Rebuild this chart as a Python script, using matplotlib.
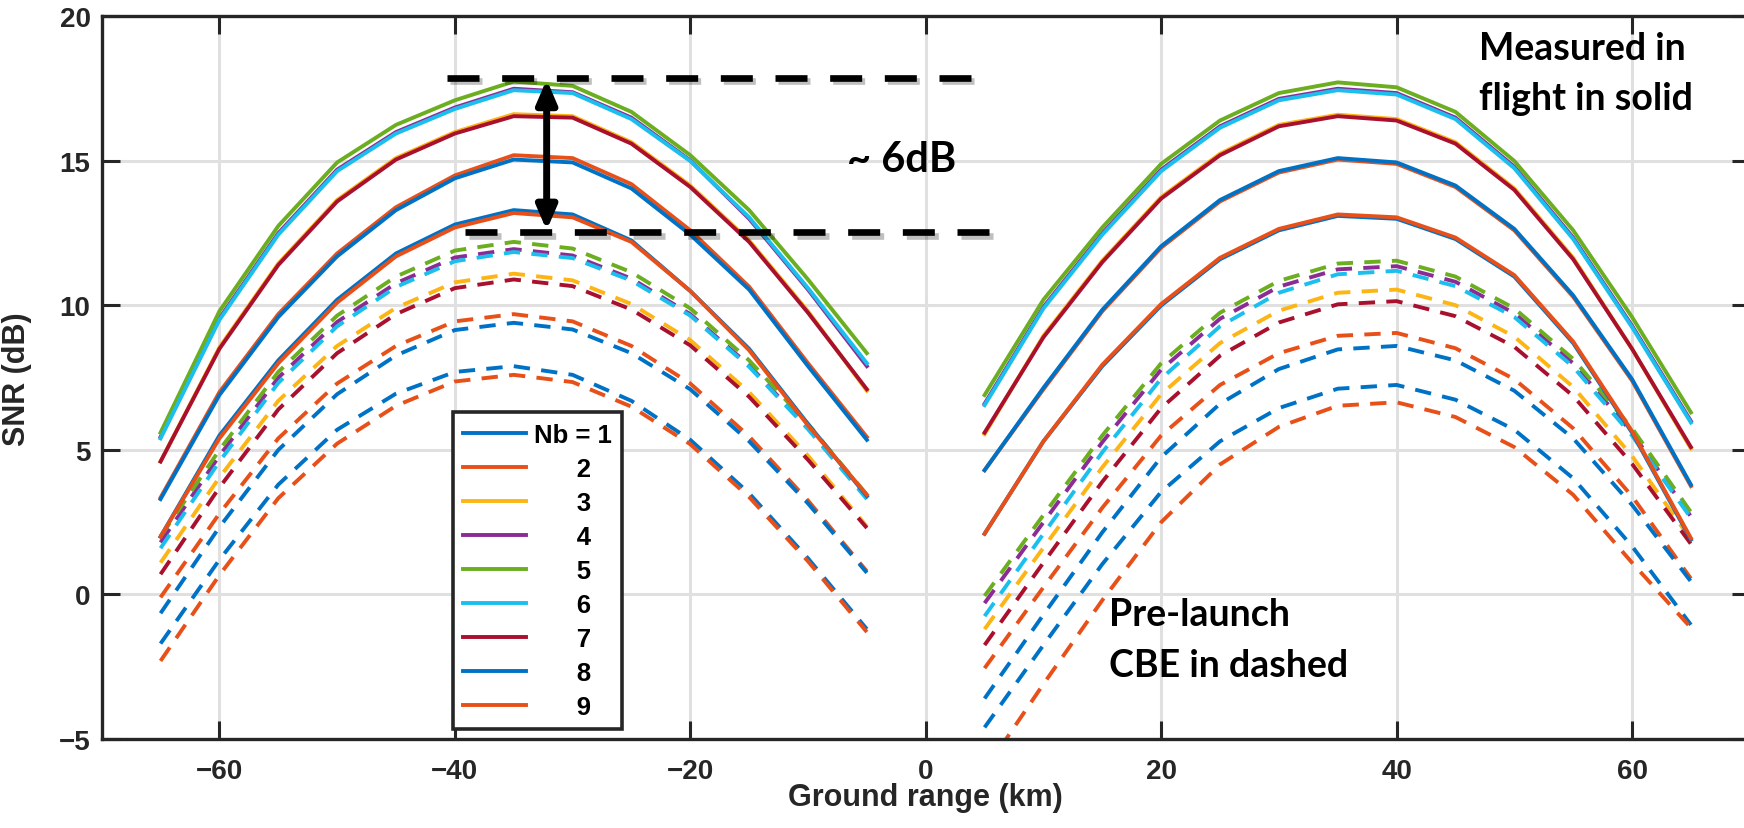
import matplotlib
matplotlib.use("Agg")
import matplotlib.pyplot as plt
import matplotlib.patheffects as pe

# ground range samples (km) for the two swaths
x_left = [-65, -60, -55, -50, -45, -40, -35, -30, -25, -20, -15, -10, -5]
x_right = [5, 10, 15, 20, 25, 30, 35, 40, 45, 50, 55, 60, 65]

beams = [1, 2, 3, 4, 5, 6, 7, 8, 9]
colors = ['#0072C6', '#E8501A', '#FDB515', '#8B2C95', '#6BAE1F',
          '#1BBFEE', '#A8102E', '#0072C6', '#E8501A']

# measured in flight SNR (dB), one row per beam
meas_left = [
    [2.0, 5.5, 8.1, 10.2, 11.8, 12.8, 13.3, 13.15, 12.25, 10.5, 8.5, 5.9, 3.4],
    [3.35, 7.0, 9.7, 11.8, 13.4, 14.5, 15.2, 15.1, 14.2, 12.6, 10.65, 8.0, 5.45],
    [4.6, 8.55, 11.45, 13.65, 15.1, 16.0, 16.62, 16.55, 15.65, 14.15, 12.25, 9.8, 7.05],
    [5.45, 9.55, 12.5, 14.7, 16.0, 16.85, 17.5, 17.38, 16.5, 15.02, 13.0, 10.55, 7.9],
    [5.6, 9.8, 12.75, 14.95, 16.25, 17.1, 17.75, 17.6, 16.7, 15.2, 13.3, 10.9, 8.35],
    [5.4, 9.5, 12.45, 14.65, 15.95, 16.8, 17.45, 17.35, 16.45, 15.0, 13.05, 10.6, 8.0],
    [4.6, 8.5, 11.4, 13.6, 15.05, 15.95, 16.55, 16.5, 15.6, 14.1, 12.2, 9.75, 7.1],
    [3.3, 6.9, 9.6, 11.7, 13.3, 14.4, 15.05, 14.95, 14.05, 12.45, 10.55, 7.9, 5.35],
    [2.0, 5.4, 8.0, 10.1, 11.7, 12.7, 13.2, 13.05, 12.2, 10.5, 8.45, 5.85, 3.45],
]
meas_right = [
    [2.1, 5.3, 7.9, 10.0, 11.6, 12.6, 13.1, 13.0, 12.3, 11.0, 8.7, 5.6, 1.9],
    [4.3, 7.1, 9.8, 12.0, 13.6, 14.6, 15.05, 14.9, 14.1, 12.6, 10.3, 7.4, 3.75],
    [5.55, 8.95, 11.55, 13.75, 15.25, 16.25, 16.6, 16.45, 15.65, 14.05, 11.65, 8.5, 5.05],
    [6.6, 9.95, 12.5, 14.7, 16.2, 17.15, 17.5, 17.35, 16.5, 14.8, 12.35, 9.3, 6.0],
    [6.9, 10.2, 12.7, 14.9, 16.4, 17.35, 17.72, 17.55, 16.7, 15.0, 12.6, 9.6, 6.3],
    [6.55, 9.9, 12.45, 14.65, 16.15, 17.1, 17.45, 17.3, 16.45, 14.75, 12.3, 9.25, 5.95],
    [5.6, 8.9, 11.5, 13.7, 15.2, 16.2, 16.55, 16.4, 15.6, 14.0, 11.6, 8.5, 5.1],
    [4.3, 7.15, 9.85, 12.05, 13.65, 14.65, 15.1, 14.95, 14.15, 12.65, 10.35, 7.45, 3.8],
    [2.1, 5.3, 7.95, 10.05, 11.65, 12.65, 13.15, 13.05, 12.35, 11.05, 8.75, 5.65, 1.95],
]

# pre-launch current best estimate SNR (dB)
cbe_left = [
    [-1.7, 1.2, 3.8, 5.7, 6.95, 7.7, 7.9, 7.6, 6.7, 5.35, 3.5, 1.25, -1.2],
    [-0.1, 2.8, 5.4, 7.3, 8.6, 9.45, 9.7, 9.45, 8.6, 7.3, 5.47, 3.25, 0.8],
    [1.1, 4.05, 6.7, 8.6, 9.92, 10.8, 11.1, 10.87, 10.05, 8.8, 7.0, 4.8, 2.35],
    [1.8, 4.8, 7.5, 9.43, 10.77, 11.66, 11.95, 11.73, 10.93, 9.7, 7.93, 5.76, 3.35],
    [2.0, 5.0, 7.7, 9.65, 11.0, 11.9, 12.2, 11.97, 11.15, 9.9, 8.1, 5.9, 3.45],
    [1.6, 4.6, 7.32, 9.28, 10.64, 11.53, 11.85, 11.64, 10.86, 9.65, 7.88, 5.72, 3.3],
    [0.7, 3.7, 6.4, 8.35, 9.7, 10.6, 10.9, 10.67, 9.86, 8.62, 6.84, 4.66, 2.3],
    [-0.65, 2.33, 5.0, 6.93, 8.27, 9.15, 9.4, 9.17, 8.35, 7.1, 5.3, 3.15, 0.75],
    [-2.3, 0.67, 3.33, 5.22, 6.53, 7.37, 7.6, 7.35, 6.5, 5.2, 3.37, 1.15, -1.3],
]
cbe_right = [
    [-4.6, -1.75, 1.05, 3.55, 5.3, 6.45, 7.12, 7.25, 6.74, 5.7, 4.02, 1.67, -1.05],
    [-2.55, 0.25, 3.0, 5.5, 7.25, 8.35, 8.95, 9.05, 8.52, 7.45, 5.75, 3.4, 0.55],
    [-1.2, 1.62, 4.4, 6.93, 8.7, 9.82, 10.44, 10.55, 10.01, 8.92, 7.18, 4.79, 1.9],
    [-0.3, 2.5, 5.27, 7.78, 9.54, 10.65, 11.25, 11.36, 10.82, 9.73, 8.0, 5.6, 2.7],
    [-0.05, 2.75, 5.5, 8.0, 9.75, 10.85, 11.45, 11.55, 11.0, 9.9, 8.15, 5.75, 2.85],
    [-0.75, 2.1, 4.92, 7.47, 9.28, 10.44, 11.08, 11.2, 10.67, 9.6, 7.88, 5.5, 2.65],
    [-1.75, 1.1, 3.9, 6.45, 8.26, 9.41, 10.04, 10.15, 9.63, 8.57, 6.87, 4.52, 1.75],
    [-3.6, -0.7, 2.15, 4.75, 6.6, 7.8, 8.48, 8.6, 8.1, 7.05, 5.4, 3.1, 0.45],
    [-6.1, -3.1, -0.2, 2.5, 4.5, 5.8, 6.53, 6.65, 6.14, 5.1, 3.45, 1.1, -1.15],
]

legend_labels = ['Nb = 1'] + ['      %d' % b for b in beams[1:]]

tick_font = {'family': 'Liberation Sans', 'weight': 'bold'}
note_font = {'family': 'Lato', 'weight': 'bold'}
axis_color = '#262626'

fig = plt.figure(figsize=(17.44, 8.29), dpi=100)
ax = fig.add_axes([0.0583, 0.1074, 0.945, 0.8715])

lw = 2.8
dash = (0, (4.2, 2.9))
handles = []
for i, b in enumerate(beams):
    h, = ax.plot(x_left, meas_left[i], color=colors[i], lw=lw, zorder=3)
    ax.plot(x_right, meas_right[i], color=colors[i], lw=lw, zorder=3)
    ax.plot(x_left, cbe_left[i], color=colors[i], lw=lw, ls=dash, zorder=2)
    ax.plot(x_right, cbe_right[i], color=colors[i], lw=lw, ls=dash, zorder=2)
    handles.append(h)

ax.set_xlim(-70, 70)
ax.set_ylim(-5, 20)
ax.set_xticks([-60, -40, -20, 0, 20, 40, 60])
ax.set_yticks([-5, 0, 5, 10, 15, 20])
ax.grid(True, color='#e0e0e0', lw=2.2, zorder=0)
ax.set_axisbelow(True)
ax.tick_params(direction='in', length=13, width=2.2, color=axis_color,
               top=True, right=True, labelsize=20, labelcolor=axis_color)
ax.tick_params(axis='x', pad=14)
ax.tick_params(axis='y', pad=8)
for lab in ax.get_xticklabels() + ax.get_yticklabels():
    lab.set_fontfamily('Liberation Sans')
    lab.set_fontweight('bold')
for s in ax.spines.values():
    s.set_linewidth(2.4)
    s.set_color(axis_color)

ax.set_xlabel('Ground range (km)', fontsize=22, color=axis_color, **tick_font)
ax.set_ylabel('SNR (dB)', fontsize=22, color=axis_color, **tick_font)
ax.xaxis.set_label_coords(0.5, -0.059)
ax.yaxis.set_label_coords(-0.0423, 0.5)

leg = ax.legend(handles, legend_labels, loc='lower left',
                bbox_to_anchor=(0.213, 0.0138), borderaxespad=0,
                prop={'family': 'Liberation Sans', 'weight': 'bold', 'size': 18.5},
                handlelength=2.45, handletextpad=0.3, labelspacing=0.39,
                borderpad=0.4, fancybox=False, framealpha=1)
leg.get_frame().set_edgecolor(axis_color)
leg.get_frame().set_linewidth(2.6)
leg.set_zorder(10)

# 6 dB gap markers with a soft drop shadow
shadow = [pe.SimpleLineShadow(offset=(2.5, -2.5), shadow_color='k', alpha=0.25),
          pe.Normal()]
ax.plot([-40.7, 5.6], [17.88, 17.88], color='k', lw=4.8,
        ls=(0, (4.8, 3.4)), path_effects=shadow, zorder=5)
ax.plot([-39.1, 5.6], [12.53, 12.53], color='k', lw=4.8,
        ls=(0, (4.8, 3.4)), path_effects=shadow, zorder=5)
ax.annotate('', xy=(-32.2, 12.6), xytext=(-32.2, 17.82),
            arrowprops=dict(arrowstyle='<|-|>,head_length=0.7,head_width=0.3',
                            mutation_scale=20, lw=5, color='k',
                            shrinkA=0, shrinkB=0), zorder=6)

ax.text(-6.7, 15.07, '~ 6dB', fontsize=30, ha='left', va='center', **note_font)
ax.text(47.0, 19.5, 'Measured in\nflight in solid', fontsize=27, ha='left',
        va='top', linespacing=1.58, **note_font)
ax.text(15.6, -0.1, 'Pre-launch\nCBE in dashed', fontsize=27, ha='left',
        va='top', linespacing=1.6, **note_font)

fig.savefig('out.png', dpi=100)
